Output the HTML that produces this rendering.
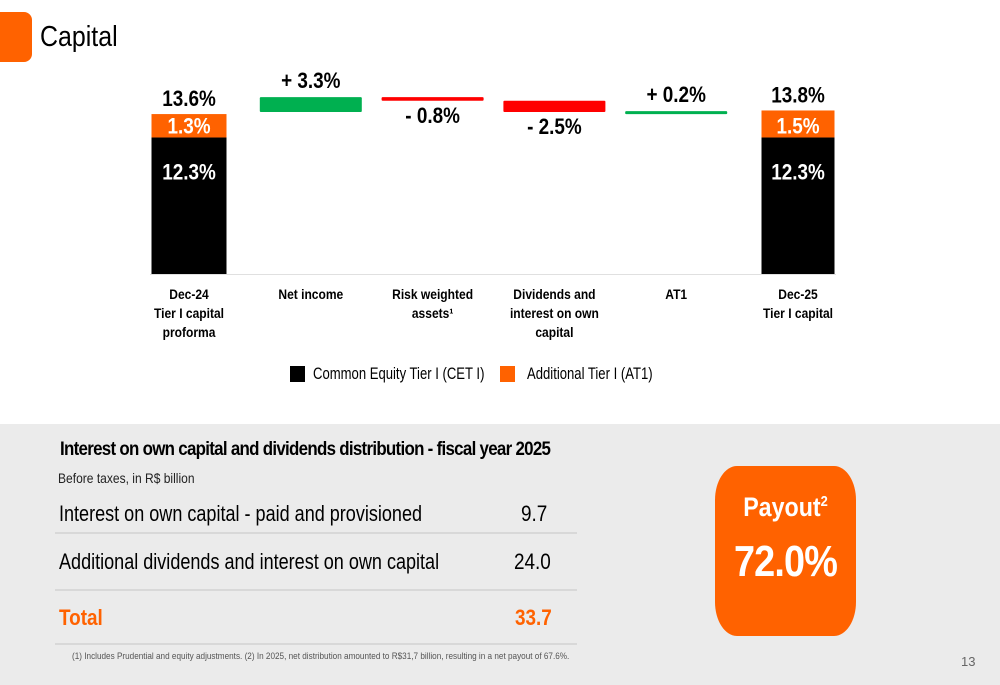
<!DOCTYPE html>
<html><head><meta charset="utf-8"><style>
body{margin:0;width:1000px;height:685px;overflow:hidden;background:#fff;font-family:"Liberation Sans",sans-serif;position:relative}
.a{position:absolute}
.n{transform:scaleX(.86);transform-origin:left top;white-space:nowrap}
svg text{font-family:"Liberation Sans",sans-serif}
</style></head><body>
<div class="a" style="left:-10px;top:12px;width:42px;height:50px;background:#ff6200;border-radius:8px"></div>
<div class="a n" style="left:40px;top:21px;font-size:29px;color:#000">Capital</div>
<svg class="a" style="left:0;top:0" width="1000" height="420">
<g id="g"></g>
</svg>
<div class="a" style="left:290px;top:366px;width:15px;height:16px;background:#000"></div>
<div class="a n" style="left:313px;top:364px;font-size:17px;transform:scaleX(.77)">Common Equity Tier I (CET I)</div>
<div class="a" style="left:500px;top:366px;width:15px;height:16px;background:#ff6200"></div>
<div class="a n" style="left:527px;top:364px;font-size:17px;transform:scaleX(.77)">Additional Tier I (AT1)</div>
<div class="a" style="left:0;top:424px;width:1000px;height:261px;background:#ebebeb">
<div class="a n" style="left:60px;top:15px;font-size:19px;font-weight:bold;letter-spacing:-0.8px;transform:scaleX(.89)">Interest on own capital and dividends distribution - fiscal year 2025</div>
<div class="a n" style="left:58px;top:46px;font-size:14px;color:#222">Before taxes, in R$ billion</div>
<div class="a n" style="left:59px;top:77px;font-size:22px;transform:scaleX(.82)">Interest on own capital - paid and provisioned</div>
<div class="a n" style="left:521px;top:77px;font-size:22px">9.7</div>
<div class="a" style="left:55px;top:108px;width:522px;height:2px;background:#d8d8d8"></div>
<div class="a n" style="left:59px;top:125px;font-size:22px;transform:scaleX(.82)">Additional dividends and interest on own capital</div>
<div class="a n" style="left:514px;top:125px;font-size:22px">24.0</div>
<div class="a" style="left:55px;top:165px;width:522px;height:2px;background:#d8d8d8"></div>
<div class="a n" style="left:59px;top:181px;font-size:22px;font-weight:bold;color:#ff6200">Total</div>
<div class="a n" style="left:515px;top:181px;font-size:22px;font-weight:bold;color:#ff6200">33.7</div>
<div class="a" style="left:55px;top:219px;width:522px;height:2px;background:#d8d8d8"></div>
<div class="a n" style="left:72px;top:227px;font-size:9.5px;color:#555">(1) Includes Prudential and equity adjustments. (2) In 2025, net distribution amounted to R$31,7 billion, resulting in a net payout of 67.6%.</div>
<div class="a" style="left:961px;top:230px;font-size:13px;color:#666">13</div>
<div class="a" style="left:715px;top:42px;width:141px;height:170px;background:#ff6200;border-radius:22px/34px;color:#fff;text-align:center">
<div style="margin-top:26px;font-size:27px;font-weight:bold;transform:scaleX(.86)">Payout<sup style="font-size:15px">2</sup></div>
<div style="margin-top:14px;font-size:44px;font-weight:bold;letter-spacing:-1px;transform:scaleX(.86)">72.0%</div>
</div>
</div>
<script>
const categories=["Dec-24|Tier I capital|proforma","Net income","Risk weighted|assets¹","Dividends and|interest on own|capital","AT1","Dec-25|Tier I capital"];
const cet1=[12.3,null,null,null,null,12.3];
const at1=[1.3,null,null,null,null,1.5];
const totals=[13.6,null,null,null,null,13.8];
const deltas=[null,3.3,-0.8,-2.5,0.2,null];
const base=274;
const xC=i=>189+i*121.8;
const yS=v=>base-v*11.1;
const hA=v=>v*18;
const yW=c=>112-(c-13.6)*4.5;
const g=document.getElementById('g');
const NS='http://www.w3.org/2000/svg';
function mk(t,a){const e=document.createElementNS(NS,t);for(const k in a)e.setAttribute(k,a[k]);g.appendChild(e);return e;}
function tx(x,y,s,sz,col,w){const e=mk('text',{x:0,y:0,'font-size':sz,fill:col,'font-weight':w||'normal','text-anchor':'middle',transform:'translate('+x+','+y+') scale(0.86,1)'});e.textContent=s;return e;}
mk('line',{x1:150,y1:274.5,x2:836,y2:274.5,stroke:'#e0e0e0','stroke-width':1});
let cum=totals[0];
categories.forEach((c,i)=>{
 const x=xC(i);
 if(cet1[i]!=null){
  const w=i==0?75:73;
  const yb=yS(cet1[i]);
  const r1=mk('rect',{x:x-w/2,y:yb,width:w,height:base-yb,fill:'#000'});
  
  
  const h=hA(at1[i]);
  const r2=mk('rect',{x:x-w/2,y:yb-h,width:w,height:h,fill:'#ff6200'});
  
  
  tx(x,yb+42,cet1[i].toFixed(1)+'%',22,'#fff','bold');
  tx(x,yb-4,at1[i].toFixed(1)+'%',22,'#fff','bold');
  tx(x,yb-h-8,totals[i].toFixed(1)+'%',22,'#000','bold');
 } else {
  const d=deltas[i];const n=cum+d;
  let y1=Math.min(yW(cum),yW(n)),y2=Math.max(yW(cum),yW(n));
  if(y2-y1<3)y2=y1+3;
  const r=mk('rect',{x:x-51,y:y1,width:102,height:y2-y1,fill:d>0?'#00b050':'#ff0000',rx:1});
  
  
  const lbl=(d>0?'+ ':'- ')+Math.abs(d).toFixed(1)+'%';
  if(d>0)tx(x,y1-9,lbl,22,'#000','bold');else tx(x,y2+22,lbl,22,'#000','bold');
  cum=n;
 }
 c.split('|').forEach((l,k)=>{tx(x,299+k*19,l,14,'#000','bold');});
});
</script>
</body></html>
